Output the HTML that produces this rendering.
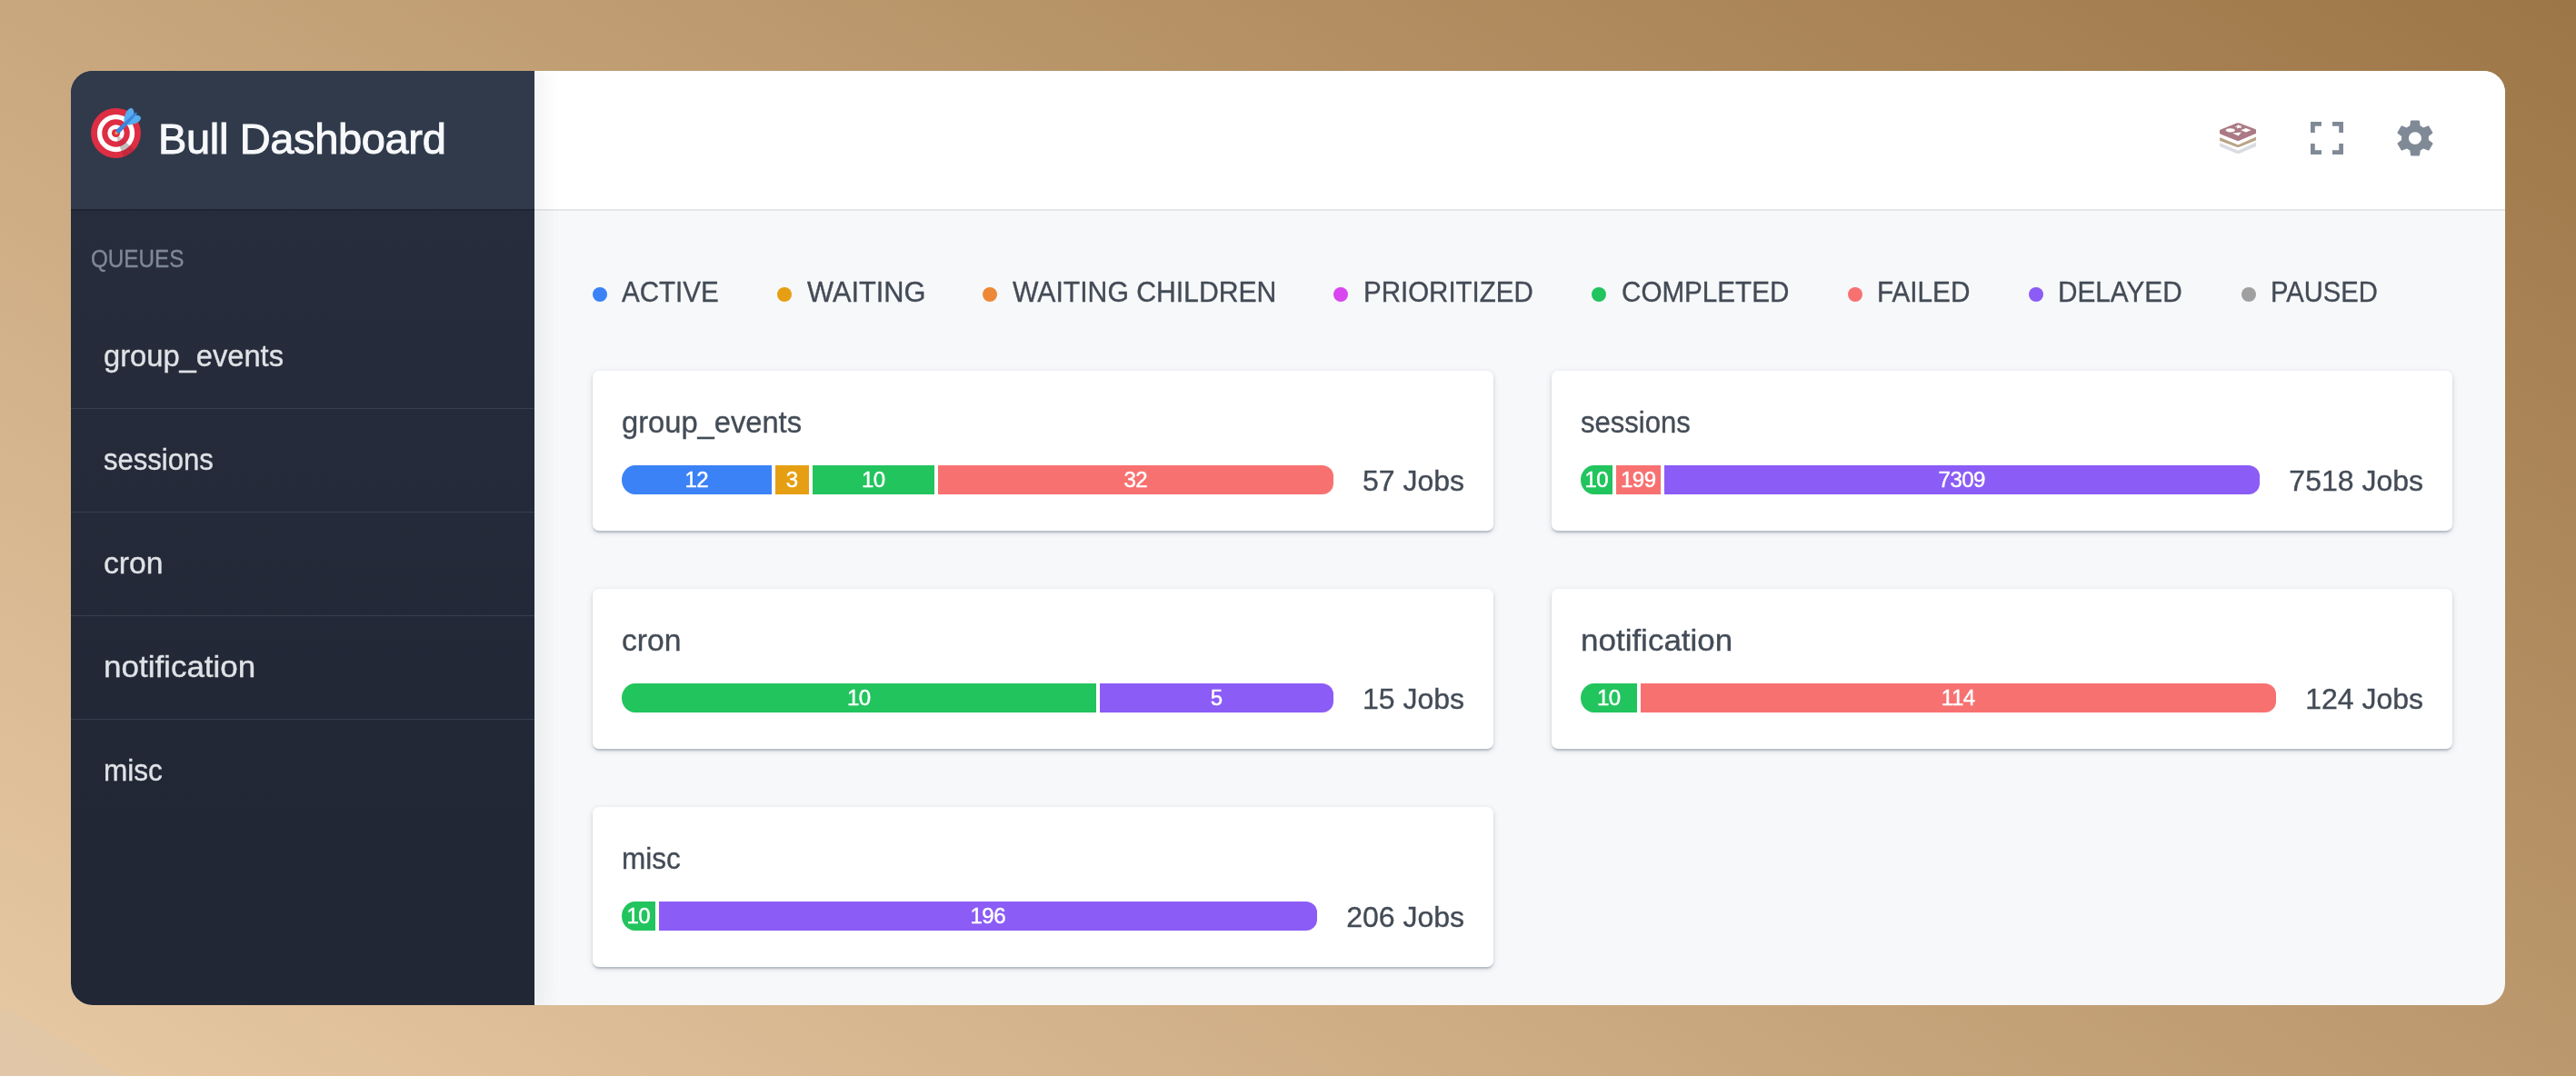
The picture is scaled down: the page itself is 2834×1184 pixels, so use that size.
<!DOCTYPE html>
<html lang="en">
<head>
<meta charset="utf-8">
<title>Bull Dashboard</title>
<style>
*{box-sizing:border-box;margin:0;padding:0}
html,body{width:2834px;height:1184px;overflow:hidden}
body{position:relative;font-family:"Liberation Sans",sans-serif;color:#434b56;
  background:linear-gradient(31deg,#e7c9a4 0%,#9d7647 100%);}
.corner{position:absolute;left:0;top:1110px;width:135px;height:74px;background:#e0c7a8;clip-path:polygon(0 0,8% 0,100% 100%,0 100%);opacity:.8}
.win{position:absolute;left:78px;top:78px;width:2678px;height:1028px;border-radius:24px;overflow:hidden;background:#f7f8fa;will-change:transform}
.aside{position:absolute;left:0;top:0;width:510px;height:1028px;background:linear-gradient(to bottom,rgb(40,46,61) 0,rgb(33,39,53) 80%);box-shadow:8px 0 18px 4px rgba(38,46,60,.055);z-index:2}
.logo{position:absolute;left:0;top:0;width:510px;height:152px;background:hsl(217,22%,24%);box-shadow:0 2px 0 0 rgba(0,0,0,.16);z-index:3}
.logo .name{position:absolute;left:96px;top:-1px;height:152px;line-height:152px;font-size:47px;letter-spacing:-.35px;color:#f7f8fa;white-space:nowrap;-webkit-text-stroke:1px #f7f8fa}
.logo svg{position:absolute;left:22px;top:41px;width:55px;height:55px}
.qlabel{position:absolute;left:22px;top:189px;font-size:27px;transform:scaleX(0.898);transform-origin:0 50%;line-height:36px;color:#7f8895;white-space:nowrap}
.menu{position:absolute;left:0;top:258px;width:510px;list-style:none}
.menu li{height:114px;line-height:112.6px;padding-left:36px;font-size:33px;color:#dfe2e6;border-bottom:1px solid #363f4e;white-space:nowrap}
.menu li:last-child{border-bottom:0}
.menu li span{display:inline-block;transform-origin:0 50%}
.header{position:absolute;left:510px;top:0;width:2168px;height:154px;background:#fff;border-bottom:2px solid #e6e7e9;z-index:1}
.ico{position:absolute;top:50px;width:48px;height:48px;fill:#808a97}
.legend{position:absolute;left:0;top:0;z-index:1}
.lg{position:absolute;top:213px;height:48px;white-space:nowrap}
.lg i{position:absolute;left:0;top:25px;width:16px;height:16px;border-radius:50%}
.lg span{position:absolute;left:32px;top:6px;font-size:31.5px;line-height:48px;transform-origin:0 50%}
.card{position:absolute;width:991px;height:176px;background:#fff;border-radius:7px;box-shadow:0 2px 2px 0 rgba(60,75,100,.14),0 4px 2px -2px rgba(60,75,100,.12),0 2px 6px 0 rgba(60,75,100,.2);z-index:1}
.card .t,.card .j,.lg span,.menu li,.qlabel{-webkit-text-stroke:0.35px currentColor}
.seg{-webkit-text-stroke:0.45px #fff}
.card .t{position:absolute;left:32px;top:35px;font-size:33px;line-height:44px;white-space:nowrap;transform-origin:0 50%}
.card .j{position:absolute;right:32px;top:99px;font-size:32px;line-height:44px;white-space:nowrap;text-align:right}
.seg{position:absolute;top:104px;height:32px;line-height:32px;font-size:24px;color:#fff;text-align:center;white-space:nowrap;letter-spacing:-.5px;text-indent:-.5px}
.seg.f{border-top-left-radius:14.5px 16px;border-bottom-left-radius:14.5px 16px}
.seg.l{border-top-right-radius:12.5px 12px;border-bottom-right-radius:12.5px 12px}
.b{background:#3b82f6}.o{background:#e69f12}.g{background:#22c45e}.r{background:#f87171}.p{background:#8b5cf6}
</style>
</head>
<body>
<div class="corner"></div>
<div class="win">
  <div class="aside">
    <div class="logo">
      <svg viewBox="0 0 36 36"><defs><clipPath id="c1"><circle cx="18" cy="18" r="13.5"/></clipPath><clipPath id="c2"><circle cx="18" cy="18" r="6"/></clipPath></defs><circle fill="#DD2E44" cx="18" cy="18" r="18"/><path opacity=".06" d="M18.24 18.282l13.144 11.754s-2.647 3.376-7.89 5.109L17.579 18.42l.661-.138z"/><circle fill="#FFF" cx="18" cy="18" r="13.5"/><path opacity=".2" clip-path="url(#c1)" d="M18.24 18.282l13.144 11.754s-2.647 3.376-7.89 5.109L17.579 18.42l.661-.138z"/><circle fill="#DD2E44" cx="18" cy="18" r="10"/><path opacity=".06" d="M18.24 18.282l13.144 11.754s-2.647 3.376-7.89 5.109L17.579 18.42l.661-.138z"/><circle fill="#FFF" cx="18" cy="18" r="6"/><path opacity=".2" clip-path="url(#c2)" d="M18.24 18.282l13.144 11.754s-2.647 3.376-7.89 5.109L17.579 18.42l.661-.138z"/><circle fill="#DD2E44" cx="18" cy="18" r="3"/><path fill="#FFAC33" d="M18.294 19c-.255 0-.509-.097-.704-.292-.389-.389-.389-1.018 0-1.407l.563-.563c.389-.389 1.018-.389 1.408 0 .388.388.388 1.018 0 1.407l-.564.563c-.194.195-.449.292-.703.292z"/><path fill="#55ACEE" d="M24.016 6.981c-.403 2.079 0 4.691 0 4.691l7.054-7.388c.291-1.454-.528-3.932-1.718-4.238-1.19-.306-4.079.803-5.336 6.935zm5.003 5.003c-2.079.403-4.691 0-4.691 0l7.388-7.054c1.454-.291 3.932.528 4.238 1.718.306 1.19-.803 4.079-6.935 5.336z"/><path fill="#3b84de" d="M32.798 4.485L21.176 17.587c-.362.362-1.673.882-2.51.046-.836-.836-.419-2.08-.057-2.443L31.815 3.501s.676-.635 1.159-.152-.176 1.136-.176 1.136z"/></svg>
      <div class="name">Bull Dashboard</div>
    </div>
    <div class="qlabel">QUEUES</div>
    <ul class="menu">
      <li><span style="transform:scaleX(0.99)">group_events</span></li>
      <li><span style="transform:scaleX(0.94)">sessions</span></li>
      <li><span style="transform:scaleX(1.02)">cron</span></li>
      <li><span style="transform:scaleX(1.06)">notification</span></li>
      <li><span style="transform:scaleX(0.955)">misc</span></li>
    </ul>
  </div>
  <div class="header">
    <svg class="redis" viewBox="0 0 40.2 34.6" style="position:absolute;left:1854px;top:56.5px;width:40.2px;height:34.6px">
      <path fill="#d9dce1" d="M1 22.6 L19.2 30.3 Q20.2 30.7 21.2 30.3 L39.2 22 Q40.2 21.5 40.2 22.6 V25.4 Q40.2 26.1 39.2 26.6 L21.2 34.1 Q20.2 34.6 19.2 34.1 L1 26.6 Q0 26.1 0 25.4 V22.9 Q0 22.2 1 22.6Z"/>
      <path fill="#b9a486" d="M1 16.5 L19.2 24.1 Q20.2 24.5 21.2 24.1 L39.2 16 Q40.2 15.6 40.2 16.6 V18.5 Q40.2 19.2 39.2 19.7 L21.2 26.9 Q20.2 27.3 19.2 26.9 L1 20.2 Q0 19.7 0 19 V17 Q0 16.1 1 16.5Z"/>
      <path fill="#ab7a85" d="M1.2 7.4 L18.6 .5 Q20.2 -.1 21.8 .5 L39 6.9 Q40.2 7.4 40.2 8.4 V11 Q40.2 11.8 39 12.3 L21.6 19.8 Q20.2 20.4 18.8 19.8 L1.2 12.8 Q0 12.3 0 11.4 V8.6 Q0 7.9 1.2 7.4Z"/>
      <ellipse fill="#fff" cx="11.8" cy="8.3" rx="4.9" ry="2.1"/>
      <path fill="#fff" d="M20.7 2 L21.9 3.5 L24.9 3.3 L23 4.6 L24.2 6.2 L21.3 5.4 L19.2 6.8 L19.3 5 L16.6 4.2 L19.5 3.6Z"/>
      <path fill="#fff" d="M23.2 8.2 L28.9 5.9 L34.6 8.2 L28.9 10.6Z"/>
      <path fill="#fff" d="M14 11.6 L23.9 10.4 L20.7 14.4Z"/>
    </svg>
    <svg class="ico" style="left:1948px" viewBox="0 0 512 512"><path d="M396.795 396.8H320V448h128V320h-51.205zM396.8 115.205V192H448V64H320v51.205zM115.205 115.2H192V64H64v128h51.205zM115.2 396.795V320H64v128h128v-51.205z"/></svg>
    <svg class="ico" style="left:2045px" viewBox="0 0 512 512"><path d="M413.967 276.8c1.06-6.235 1.06-13.518 1.06-20.8s-1.06-13.518-1.06-20.8l44.667-34.318c4.26-3.118 5.319-8.317 2.13-13.518L418.215 115.6c-2.129-4.164-8.507-6.235-12.767-4.164l-53.186 20.801c-10.638-8.318-23.394-15.601-36.16-20.801l-7.448-55.117c-1.06-4.154-5.319-8.318-10.638-8.318h-85.098c-5.318 0-9.577 4.164-10.637 8.318l-8.508 55.117c-12.767 5.2-24.464 12.482-36.171 20.801l-53.186-20.801c-5.319-2.071-10.638 0-12.767 4.164L49.1 187.365c-2.119 4.153-1.061 10.399 2.129 13.518L96.97 235.2c0 7.282-1.06 13.518-1.06 20.8s1.06 13.518 1.06 20.8l-44.668 34.318c-4.26 3.118-5.318 8.317-2.13 13.518L92.721 396.4c2.13 4.164 8.508 6.235 12.767 4.164l53.187-20.801c10.637 8.318 23.394 15.601 36.16 20.801l8.508 55.117c1.069 5.2 5.318 8.318 10.637 8.318h85.098c5.319 0 9.578-4.164 10.638-8.318l8.518-55.117c12.757-5.2 24.464-12.482 36.16-20.801l53.187 20.801c5.318 2.071 10.637 0 12.767-4.164l42.549-71.765c2.129-4.153 1.06-10.399-2.13-13.518l-46.8-34.317zm-158.499 52c-41.489 0-74.46-32.235-74.46-72.8s32.971-72.8 74.46-72.8 74.46 32.235 74.46 72.8-32.971 72.8-74.46 72.8z"/></svg>
  </div>
  <div class="legend">
    <div class="lg" style="left:574px"><i style="background:#3b82f6"></i><span style="transform:scaleX(0.938);left:32px">ACTIVE</span></div>
    <div class="lg" style="left:777px"><i style="background:#e69f12"></i><span style="transform:scaleX(0.977);left:33px">WAITING</span></div>
    <div class="lg" style="left:1003px"><i style="background:#ed8936"></i><span style="transform:scaleX(0.957);left:33px">WAITING CHILDREN</span></div>
    <div class="lg" style="left:1389px"><i style="background:#d946ef"></i><span style="transform:scaleX(0.936);left:32.5px">PRIORITIZED</span></div>
    <div class="lg" style="left:1673px"><i style="background:#22c45e"></i><span style="transform:scaleX(0.94);left:32.5px">COMPLETED</span></div>
    <div class="lg" style="left:1955px"><i style="background:#f87171"></i><span style="transform:scaleX(0.943);left:32px">FAILED</span></div>
    <div class="lg" style="left:2154px"><i style="background:#8b5cf6"></i><span style="transform:scaleX(0.944);left:32px">DELAYED</span></div>
    <div class="lg" style="left:2388px"><i style="background:#a0a0a0"></i><span style="transform:scaleX(0.927);left:32px">PAUSED</span></div>
  </div>
  <div class="card" style="left:574px;top:330px"><div class="t" style="transform:scaleX(0.99)">group_events</div><div class="seg b f" style="left:32px;width:165px">12</div><div class="seg o" style="left:201px;width:37px">3</div><div class="seg g" style="left:242px;width:134px">10</div><div class="seg r l" style="left:380px;width:435px">32</div><div class="j" style="letter-spacing:0px">57 Jobs</div></div>
  <div class="card" style="left:1629px;top:330px"><div class="t" style="transform:scaleX(0.94)">sessions</div><div class="seg g f" style="left:32px;width:35px">10</div><div class="seg r" style="left:71px;width:49px">199</div><div class="seg p l" style="left:124px;width:655px">7309</div><div class="j" style="letter-spacing:0px">7518 Jobs</div></div>
  <div class="card" style="left:574px;top:570px"><div class="t" style="transform:scaleX(1.02)">cron</div><div class="seg g f" style="left:32px;width:522px">10</div><div class="seg p l" style="left:558px;width:257px">5</div><div class="j" style="letter-spacing:0px">15 Jobs</div></div>
  <div class="card" style="left:1629px;top:570px"><div class="t" style="transform:scaleX(1.06)">notification</div><div class="seg g f" style="left:32px;width:62px">10</div><div class="seg r l" style="left:98px;width:699px">114</div><div class="j" style="letter-spacing:0px">124 Jobs</div></div>
  <div class="card" style="left:574px;top:810px"><div class="t" style="transform:scaleX(0.955)">misc</div><div class="seg g f" style="left:32px;width:37px">10</div><div class="seg p l" style="left:73px;width:724px">196</div><div class="j" style="letter-spacing:0px">206 Jobs</div></div>
</div>
</body>
</html>
